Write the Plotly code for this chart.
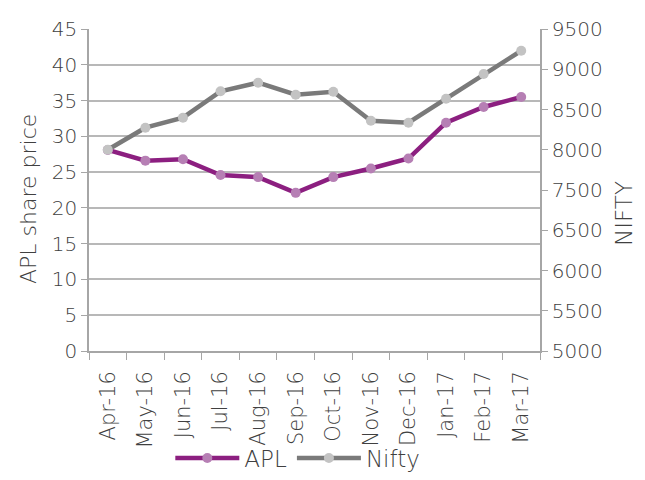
import plotly.graph_objects as go

months = ["Apr-16", "May-16", "Jun-16", "Jul-16", "Aug-16", "Sep-16",
          "Oct-16", "Nov-16", "Dec-16", "Jan-17", "Feb-17", "Mar-17"]
apl = [28.1, 26.6, 26.8, 24.6, 24.3, 22.1, 24.3, 25.5, 26.9, 31.9, 34.1, 35.5]
nifty = [8000, 8274, 8398, 8726, 8833, 8684, 8721, 8361, 8336, 8634, 8941, 9230]

# right axis as printed in the source (7000 is skipped there)
nifty_ticks = [5500, 6000, 6500, 7000, 7500, 8000, 8500, 9000, 9500]
nifty_labels = ["5000", "5500", "6000", "6500", "7500", "8000", "8500", "9000", "9500"]

FONT = "DejaVu Sans"
TXT = "#404040"
AXIS = "#a6a6a6"

fig = go.Figure()
fig.add_trace(go.Scatter(
    x=months, y=apl, name="APL", mode="lines+markers",
    line=dict(color="#8c1f80", width=4.5),
    marker=dict(color="#b67fb4", size=10),
))
fig.add_trace(go.Scatter(
    x=months, y=nifty, name="Nifty", mode="lines+markers", yaxis="y2",
    line=dict(color="#7a7a7a", width=4.5),
    marker=dict(color="#c3c3c3", size=10),
))

# page body has an 8px margin, so keep the figure inside 629x464
fig.update_layout(
    width=629, height=464,
    margin=dict(l=81, r=97, t=21, b=121),
    paper_bgcolor="white", plot_bgcolor="white",
    font=dict(family=FONT, color=TXT, size=20, weight=200),
    xaxis=dict(
        type="category", range=[-0.5, 11.5], tickangle=-90,
        showline=True, linecolor=AXIS, linewidth=1.5,
        ticks="outside", tickson="boundaries", ticklen=7, tickcolor=AXIS,
        ticklabelstandoff=10,
        showgrid=False, tickfont=dict(size=21), automargin=False,
    ),
    yaxis=dict(
        range=[0, 45], dtick=5, showline=True, linecolor=AXIS, linewidth=1.5,
        ticks="outside", ticklen=6, tickcolor=AXIS,
        showgrid=True, gridcolor="#b8b8b8", gridwidth=1.5, zeroline=False,
        tickfont=dict(size=20), automargin=False,
    ),
    yaxis2=dict(
        overlaying="y", side="right", range=[5500, 9500],
        tickvals=nifty_ticks, ticktext=nifty_labels,
        showline=True, linecolor=AXIS, linewidth=1.5,
        ticks="outside", ticklen=6, tickcolor=AXIS,
        showgrid=False, zeroline=False,
        tickfont=dict(size=20), automargin=False,
    ),
    legend=dict(
        orientation="h", x=0.463, xanchor="center",
        yref="container", y=0.03, yanchor="middle",
        font=dict(size=23), itemwidth=64, bgcolor="rgba(0,0,0,0)",
    ),
    annotations=[
        dict(text="APL share price", x=-0.1353, y=0.472, xref="paper", yref="paper",
             textangle=-90, showarrow=False, font=dict(size=22),
             xanchor="center", yanchor="middle"),
        dict(text="NIFTY", x=1.185, y=0.427, xref="paper", yref="paper",
             textangle=-90, showarrow=False, font=dict(size=23),
             xanchor="center", yanchor="middle"),
    ],
    showlegend=True,
)

fig.write_html("out.html")
